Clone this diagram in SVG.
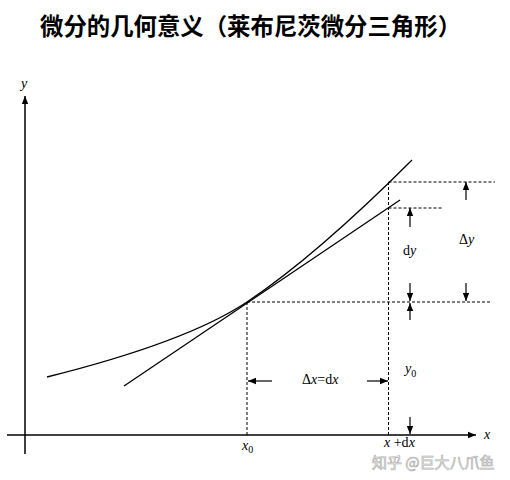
<svg xmlns="http://www.w3.org/2000/svg" width="510" height="480" viewBox="0 0 510 480">
<style>
.title{font-family:"Noto Sans CJK SC","Noto Sans",sans-serif;font-weight:bold;font-size:23.4px;fill:#000}
.m{font-family:"Liberation Serif","Times New Roman",serif;font-size:14px;fill:#000}
.i{font-style:italic}
.sub{font-size:10px}
.ax{stroke:#000;stroke-width:1.5;fill:none}
.cv{stroke:#000;stroke-width:1.3;fill:none}
.dash{stroke:#000;stroke-width:1;stroke-dasharray:3 2;fill:none}
.arr{stroke:#000;stroke-width:1.2;fill:none;marker-end:url(#ah)}
.wm{font-family:"Noto Sans CJK SC","Noto Sans",sans-serif;font-size:15px;fill:#fff;stroke:#b0b0b0;stroke-width:0.7}
</style>
<defs>
<marker id="ah" markerUnits="userSpaceOnUse" markerWidth="10" markerHeight="10" viewBox="0 0 10 10" refX="9" refY="5" orient="auto">
<path d="M1,1.8 L9,5 L1,8.2 Z" fill="#000"/>
</marker>
</defs>
<rect width="510" height="480" fill="#fff"/>
<text class="title" x="40" y="35">微分的几何意义（莱布尼茨微分三角形）</text>
<g id="axes">
<line class="ax" x1="25" y1="454" x2="25" y2="96" marker-end="url(#ah)"/>
<line class="ax" x1="7" y1="435" x2="476" y2="435" marker-end="url(#ah)"/>
<text class="m i" x="24" y="88" text-anchor="middle">y</text>
<text class="m i" x="484" y="439">x</text>
</g>
<g id="curve">
<path class="cv" d="M47,377 Q187,342 247,302 Q316,256 412,160"/>
</g>
<g id="tangent">
<line class="cv" x1="124" y1="386" x2="400" y2="200"/>
</g>
<g id="guides">
<line class="dash" x1="247" y1="302" x2="247" y2="435"/>
<line class="dash" x1="388.5" y1="182" x2="388.5" y2="435"/>
<line class="dash" x1="388.5" y1="182" x2="495" y2="182"/>
<line class="dash" x1="388.5" y1="208" x2="442" y2="208"/>
<line class="dash" x1="247" y1="302" x2="491" y2="302"/>
</g>
<g id="connectors">
<line class="arr" x1="410" y1="227" x2="410" y2="208"/>
<line class="arr" x1="410" y1="283" x2="410" y2="301"/>
<line class="arr" x1="410" y1="320" x2="410" y2="303"/>
<line class="arr" x1="466" y1="200" x2="466" y2="182"/>
<line class="arr" x1="466" y1="283" x2="466" y2="301"/>
<line class="arr" x1="272" y1="381" x2="248" y2="381"/>
<line class="arr" x1="367" y1="381" x2="388" y2="381"/>
<line class="arr" x1="410" y1="417" x2="410" y2="434"/>
</g>
<g id="labels">
<text class="m" x="403" y="255">d<tspan class="i">y</tspan></text>
<text class="m" x="459" y="244">Δ<tspan class="i">y</tspan></text>
<text class="m" x="302" y="384">Δ<tspan class="i">x</tspan>=d<tspan class="i">x</tspan></text>
<text class="m" x="405" y="373"><tspan class="i">y</tspan><tspan class="sub" dy="4">0</tspan></text>
<text class="m" x="242" y="450"><tspan class="i">x</tspan><tspan class="sub" dy="3">0</tspan></text>
<text class="m" x="384" y="447"><tspan class="i">x</tspan> +d<tspan class="i">x</tspan></text>
</g>
<text class="wm" x="372" y="468">知乎 @巨大八爪鱼</text>
</svg>
